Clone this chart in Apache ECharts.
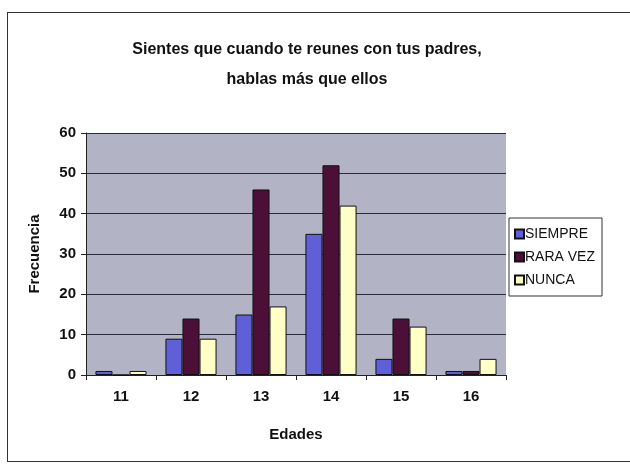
<!DOCTYPE html>
<html>
<head>
<meta charset="utf-8">
<script src="https://cdn.jsdelivr.net/npm/echarts@6/dist/echarts.min.js"></script>
<style>
  html, body { margin: 0; padding: 0; background: #fff; }
  #wrap { position: relative; width: 630px; height: 466px; overflow: hidden; }
  #frame { position: absolute; left: 7px; top: 12px; width: 640px; height: 448px; border: 1px solid #333; }
  #chart { position: absolute; left: 0; top: 0; width: 630px; height: 466px; }
</style>
</head>
<body>
<div id="wrap">
  <div id="frame"></div>
  <div id="chart"></div>
</div>
<script>
  // edades
  var categories = ['11', '12', '13', '14', '15', '16'];
  var siempre = [1, 9, 15, 35, 4, 1];
  var raraVez = [0, 14, 46, 52, 14, 1];
  var nunca = [1, 9, 17, 42, 12, 4];

  var font = '"Liberation Sans", Arial, sans-serif';
  var myChart = echarts.init(document.getElementById('chart'));

  function bar(name, data, color) {
    return {
      name: name,
      type: 'bar',
      data: data,
      barGap: '0%',
      barCategoryGap: '27%',
      itemStyle: { color: color, borderColor: '#111', borderWidth: 1 }
    };
  }

  myChart.setOption({
    animation: false,
    title: {
      text: 'Sientes que cuando te reunes con tus padres,\nhablas más que ellos',
      left: 302,
      textAlign: 'center',
      top: 30,
      textStyle: { fontFamily: font, fontSize: 16, fontWeight: 'bold', color: '#111', lineHeight: 30 }
    },
    legend: {
      orient: 'vertical',
      left: 509,
      top: 218,
      padding: [9, 7, 9, 5],
      itemGap: 9,
      itemWidth: 9,
      itemHeight: 9,
      icon: 'rect',
      borderColor: '#333',
      borderWidth: 1,
      textStyle: { fontFamily: font, fontSize: 14, color: '#111', padding: [0, 0, 0, -4] },
      data: ['SIEMPRE', 'RARA VEZ', 'NUNCA']
    },
    grid: { left: 86, right: 124, top: 133, bottom: 91 },
    xAxis: {
      type: 'category',
      data: categories,
      name: 'Edades',
      nameLocation: 'middle',
      nameGap: 52,
      nameTextStyle: { fontFamily: font, fontSize: 15, fontWeight: 'bold', color: '#111' },
      axisLine: { lineStyle: { color: '#222', width: 1 } },
      axisTick: { show: true, lineStyle: { color: '#222' }, length: 5 },
      axisLabel: { fontFamily: font, fontSize: 15, fontWeight: 'bold', color: '#111', margin: 14 }
    },
    yAxis: {
      type: 'value',
      min: 0,
      max: 60,
      interval: 10,
      name: 'Frecuencia',
      nameLocation: 'middle',
      nameGap: 44,
      nameTextStyle: { fontFamily: font, fontSize: 15, fontWeight: 'bold', color: '#111' },
      axisLine: { show: true, lineStyle: { color: '#222' } },
      axisTick: { show: true, lineStyle: { color: '#222' }, length: 5 },
      axisLabel: { fontFamily: font, fontSize: 15, fontWeight: 'bold', color: '#111', margin: 10 },
      splitLine: { show: true, lineStyle: { color: '#2a2a3a', width: 1 } },
      splitArea: { show: true, areaStyle: { color: ['#b3b3c6', '#b3b3c6'] } }
    },
    series: [
      bar('SIEMPRE', siempre, '#5f5fd8'),
      bar('RARA VEZ', raraVez, '#4c0f38'),
      bar('NUNCA', nunca, '#ffffc6')
    ]
  });

  window.addEventListener('resize', function () {
    myChart.resize();
  });
</script>
</body>
</html>
